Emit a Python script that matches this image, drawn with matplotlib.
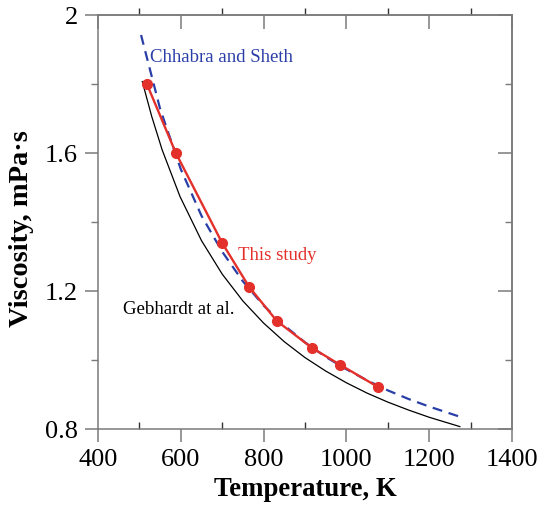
import numpy as np
import matplotlib
matplotlib.use("Agg")
import matplotlib.pyplot as plt
from matplotlib.ticker import MultipleLocator, FuncFormatter

plt.rcParams['font.family'] = ['Liberation Serif', 'DejaVu Serif']

# This study (measured points, joined by a line)
study_T = [518, 588, 700, 765, 832, 917, 985, 1076]
study_visc = [1.800, 1.600, 1.339, 1.212, 1.113, 1.035, 0.986, 0.922]

# Chhabra and Sheth (dashed)
chhabra_T = [504, 550, 600, 650, 700, 750, 800, 850, 900, 950, 1000, 1050, 1100, 1150, 1200, 1278]
chhabra_visc = [1.942, 1.728, 1.553, 1.418, 1.314, 1.228, 1.158, 1.100, 1.051, 1.009,
                0.973, 0.941, 0.912, 0.887, 0.865, 0.834]

# Gebhardt et al. (thin black)
gebhardt_T = [507, 530, 555, 598, 650, 700, 750, 800, 850, 900, 950, 1000, 1050, 1100, 1150, 1200, 1274]
gebhardt_visc = [1.807, 1.705, 1.609, 1.474, 1.346, 1.249, 1.171, 1.107, 1.053, 1.007, 0.968,
                 0.934, 0.904, 0.878, 0.855, 0.834, 0.807]

red = '#e3302b'
blue = '#2a3ea8'
spine_col = '#7a7a7a'

fig = plt.figure(figsize=(5.43, 5.07), dpi=100)
ax = fig.add_axes([98 / 543, 1 - 429 / 507, 414 / 543, 414 / 507])

ax.plot(gebhardt_T, gebhardt_visc, color='black', lw=0.9)
ax.plot(chhabra_T, chhabra_visc, color=blue, lw=1.6, dashes=(4.5, 3))
ax.plot(study_T, study_visc, color=red, lw=1.7, marker='o', ms=7, zorder=5)

ax.text(526, 1.878, 'Chhabra and Sheth', color=blue, fontsize=13.5, va='center', ha='left')
ax.text(738, 1.304, 'This study', color=red, fontsize=13.5, va='center', ha='left')
ax.text(460, 1.145, 'Gebhardt at al.', color='black', fontsize=13.6, va='center', ha='left')

ax.set_xlim(400, 1400)
ax.set_ylim(0.8, 2.0)
ax.xaxis.set_major_locator(MultipleLocator(200))
ax.xaxis.set_minor_locator(MultipleLocator(100))
ax.yaxis.set_major_locator(MultipleLocator(0.4))
ax.yaxis.set_minor_locator(MultipleLocator(0.2))
ax.yaxis.set_major_formatter(FuncFormatter(lambda v, p: '2' if abs(v - 2) < 1e-6 else f'{v:.1f}'))

for s in ax.spines.values():
    s.set_color(spine_col)
    s.set_linewidth(1.1)

ax.tick_params(axis='x', which='major', direction='out', length=9.5, width=1.1,
               color=spine_col, labelsize=19, pad=5, top=False)
ax.tick_params(axis='x', which='minor', direction='in', length=5, width=1.0,
               color='#333333', top=False)
ax.tick_params(axis='y', which='major', direction='out', length=9.5, width=1.1,
               color=spine_col, labelsize=19, pad=5, right=False)
ax.tick_params(axis='y', which='minor', direction='out', length=5, width=1.0,
               color=spine_col, right=False)

top = ax.secondary_xaxis('top')
top.xaxis.set_major_locator(MultipleLocator(200))
top.xaxis.set_minor_locator(MultipleLocator(100))
top.tick_params(which='major', direction='in', length=10, width=1.1, color=spine_col, labeltop=False)
top.tick_params(which='minor', direction='out', length=5, width=1.0, color='#333333')
top.spines['top'].set_color(spine_col)
top.spines['top'].set_linewidth(1.1)

right = ax.secondary_yaxis('right')
right.yaxis.set_major_locator(MultipleLocator(0.4))
right.yaxis.set_minor_locator(MultipleLocator(0.2))
right.tick_params(which='major', direction='in', length=10, width=1.1, color=spine_col, labelright=False)
right.tick_params(which='minor', direction='in', length=5, width=1.0, color=spine_col)
right.spines['right'].set_color(spine_col)
right.spines['right'].set_linewidth(1.1)

ax.set_xlabel('Temperature, K', fontsize=19.3, fontweight='bold', labelpad=4)
ax.set_ylabel('Viscosity, mPa·s', fontsize=20.5, fontweight='bold')
ax.yaxis.set_label_coords(-0.155, 0.485)

fig.savefig('out.png', dpi=100)
